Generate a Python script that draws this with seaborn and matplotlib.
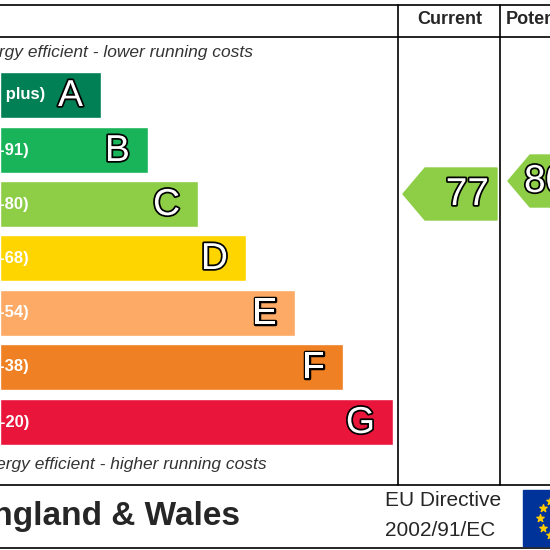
import numpy as np
import matplotlib.pyplot as plt
import matplotlib.patheffects as pe
from matplotlib.patches import Polygon
import seaborn as sns

sns.set_theme(style="white")
plt.rcParams['font.family'] = ['Liberation Sans', 'DejaVu Sans']

# band data
letters = ["A", "B", "C", "D", "E", "F", "G"]
ranges = ["(92 plus)", "(81-91)", "(69-80)", "(55-68)", "(39-54)", "(21-38)", "(1-20)"]
band_end = [101, 148, 198, 246, 295, 343, 393]
band_mid = [95, 150, 204, 258, 313, 367, 422]
colors = ["#008054", "#19b459", "#8dce46", "#ffd500", "#fcaa65", "#ef8023", "#e9153b"]
current = 77
potential = 80

def band_of(v):
    lims = [92, 81, 69, 55, 39, 21, 1]
    for i, l in enumerate(lims):
        if v >= l:
            return i
    return 6

fig = plt.figure(figsize=(5.5, 5.5), dpi=100)
ax = fig.add_axes([0, 0, 1, 1])
ax.barh(band_mid, band_end, height=46, color=colors, left=0)
ax.set_xlim(0, 550)
ax.set_ylim(550, 0)
ax.axis("off")

outline = [pe.withStroke(linewidth=2.5, foreground="black")]
for i in range(7):
    ax.text(band_end[i] - 18, band_mid[i] + 1, letters[i], ha="right", va="center",
            fontsize=27, color="white", path_effects=outline)
    ax.text(45 if i == 0 else 29, band_mid[i], ranges[i],
            ha="right", va="center", fontsize=12, fontweight="bold", color="white")

ax.text(-70, 53, "Very energy efficient - lower running costs", ha="left", va="center",
        fontsize=12.5, style="italic", color="#333333")
ax.text(-55, 465, "Not energy efficient - higher running costs", ha="left", va="center",
        fontsize=12.5, style="italic", color="#333333")

# frame
for y in [5, 37, 485, 548]:
    ax.plot([0, 550], [y, y], color="black", lw=1.2)
for x in [398, 500]:
    ax.plot([x, x], [5, 485], color="black", lw=1.2)
ax.text(450, 20, "Current", ha="center", va="center", fontsize=13, fontweight="bold")
ax.text(506, 20, "Potential", ha="left", va="center", fontsize=13, fontweight="bold")

# arrows
def arrow(x0, x1, y0, y1, val, tx, ha):
    ym = (y0 + y1) / 2
    pts = [(x0, ym), (x0 + 22, y0), (x1, y0), (x1, y1), (x0 + 22, y1)]
    ax.add_patch(Polygon(pts, closed=True, color=colors[band_of(val)], zorder=3))
    ax.text(tx, ym + 1, str(val), ha=ha, va="center", fontsize=28,
            color="white", path_effects=outline, zorder=4)

arrow(403, 497, 168, 220, current, 489, "right")
arrow(508, 600, 155, 207, potential, 524, "left")

# footer
ax.text(-30, 516, "England & Wales", ha="left", va="center", fontsize=24, fontweight="bold")
ax.text(385, 501, "EU Directive", ha="left", va="center", fontsize=15)
ax.text(385, 530, "2002/91/EC", ha="left", va="center", fontsize=15)
ax.add_patch(plt.Rectangle((523, 490), 80, 56, color="#003399", zorder=3))
ang = np.linspace(0, 2 * np.pi, 12, endpoint=False)
ax.scatter(560 + 20 * np.cos(ang), 518 + 20 * np.sin(ang), marker="*", s=30,
           color="#ffcc00", zorder=4)

fig.savefig("out.png", dpi=100)
